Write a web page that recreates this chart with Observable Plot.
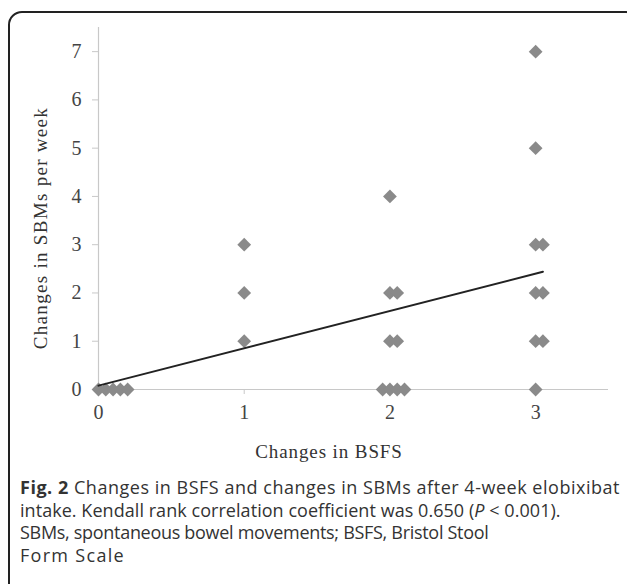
<!DOCTYPE html>
<html>
<head>
<meta charset="utf-8">
<script src="https://cdn.jsdelivr.net/npm/d3@7"></script>
<script src="https://cdn.jsdelivr.net/npm/@observablehq/plot@0.6"></script>
<style>
  html, body { margin: 0; padding: 0; background: #fff; overflow: hidden; width: 627px; height: 584px; }
  #frame { position: absolute; left: 8px; top: 11px; width: 632px; height: 620px; border: 2px solid #222; border-radius: 14px; box-sizing: border-box; }
  #chart { position: absolute; left: 0; top: 0; }
  .title { font-family: "Liberation Serif", serif; font-size: 19px; letter-spacing: 0.9px; color: #333; white-space: nowrap; }
  #xtitle { position: absolute; left: 179px; width: 300px; top: 441px; text-align: center; }
  #ytitle { position: absolute; left: -109px; width: 300px; top: 217px; text-align: center; transform: rotate(-90deg); transform-origin: 150px 11px; letter-spacing: 1.3px; }
  #caption { position: absolute; left: 20px; top: 476px; font-family: "Open Sans", sans-serif; font-size: 18px; line-height: 22.7px; color: #333; white-space: nowrap; }
  #caption b { font-weight: 700; }
</style>
</head>
<body>
<div id="frame"></div>
<div id="chart"></div>
<div id="xtitle" class="title">Changes in BSFS</div>
<div id="ytitle" class="title">Changes in SBMs per week</div>
<div id="caption">
  <div style="letter-spacing:0.52px"><b>Fig. 2</b> Changes in BSFS and changes in SBMs after 4-week elobixibat</div>
  <div style="letter-spacing:0.05px">intake. Kendall rank correlation coefficient was 0.650 (<i>P</i> &lt; 0.001).</div>
  <div style="letter-spacing:-0.3px">SBMs, spontaneous bowel movements; BSFS, Bristol Stool</div>
  <div style="letter-spacing:1.3px">Form Scale</div>
</div>
<script>
// Data (x slightly offset where markers overlap, as in the original)
const bsfsChange = [0, 0.05, 0.1, 0.15, 0.2,  1, 1, 1,  2, 2, 2.05, 2, 2.05,  1.95, 2, 2.05, 2.1,  3, 3, 3, 3.05, 3, 3.05, 3, 3.05, 3];
const sbmChange  = [0, 0, 0, 0, 0,            1, 2, 3,  4, 2, 2, 1, 1,        0, 0, 0, 0,           7, 5, 3, 3, 2, 2, 1, 1, 0];
const trendX = [0, 3.05];
const trendY = [0.08, 2.44];
const xTicks = [0, 1, 2, 3];
const yTicks = [0, 1, 2, 3, 4, 5, 6, 7];

const points = bsfsChange.map((x, i) => ({x, y: sbmChange[i]}));
const trend = trendX.map((x, i) => ({x, y: trendY[i]}));

const W = 627, H = 470;
const serif = "'Liberation Serif', serif";
const chart = Plot.plot({
  width: W,
  height: H,
  marginLeft: 98,
  marginRight: 19,
  marginTop: 27,
  marginBottom: H - 389,
  style: {fontFamily: serif, color: "#444", background: "transparent"},
  x: {domain: [0, 3.5]},
  y: {domain: [0, 7.5]},
  marks: [
    Plot.ruleX([0], {stroke: "#c8c8c8", strokeWidth: 1.2}),
    Plot.ruleY([0], {stroke: "#c8c8c8", strokeWidth: 1.2}),
    Plot.axisY(yTicks, {tickSize: 6, tickPadding: 11, stroke: "#c8c8c8", fill: "#444", fontSize: 20,
      tickFormat: "d", label: null}),
    Plot.axisX(xTicks, {tickSize: 5, tickPadding: 10, stroke: "#c8c8c8", fill: "#444", fontSize: 20,
      tickFormat: "d", label: null}),
    Plot.dot(points, {x: "x", y: "y", symbol: "diamond2", r: 6.2, fill: "#8a8a8a", stroke: "none"}),
    Plot.line(trend, {x: "x", y: "y", stroke: "#222", strokeWidth: 2})
  ]
});
document.getElementById("chart").appendChild(chart);
</script>
</body>
</html>
